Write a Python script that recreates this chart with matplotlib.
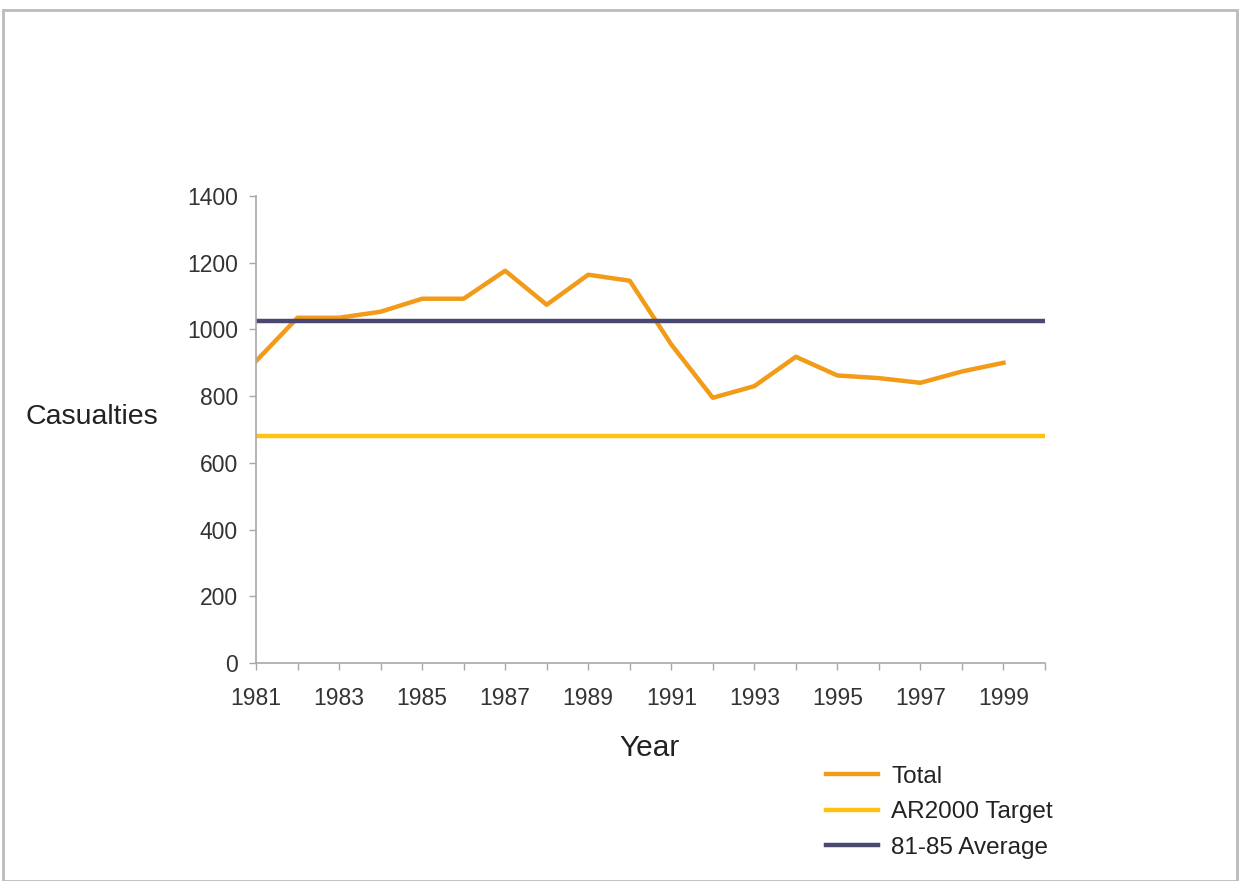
import matplotlib
matplotlib.use("Agg")
import matplotlib.pyplot as plt
from matplotlib.patches import Rectangle

plt.rcParams['font.family'] = ['Liberation Sans', 'DejaVu Sans']

years = list(range(1981, 2000))
total = [905, 1035, 1035, 1053, 1092, 1092, 1176, 1074, 1164, 1146,
         955, 795, 830, 918, 862, 854, 840, 874, 900]
axis_years = [1981, 2000]
target = [680, 680]
average = [1025, 1025]
ytick_vals = [0, 200, 400, 600, 800, 1000, 1200, 1400]
xtick_labels = [str(y) for y in range(1981, 2000, 2)]

fig = plt.figure(figsize=(12.4, 8.81), dpi=100)
ax = fig.add_axes([256/1240, 1-663/881, (1045-256)/1240, (663-196)/881])

ax.plot(years, total, color='#F29B18', lw=3.2, label='Total')
ax.plot(axis_years, target, color='#FFC20E', lw=3.2, label='AR2000 Target')
ax.plot(axis_years, average, color='#4A4870', lw=3.2, label='81-85 Average')

ax.set_xlim(1981, 2000)
ax.set_ylim(0, 1400)
ax.set_yticks(ytick_vals)
ax.set_xticks(list(range(1981, 2000, 2)))
ax.set_xticklabels(xtick_labels)
ax.set_xticks(list(range(1982, 2001, 2)), minor=True)

for s in ['top', 'right']:
    ax.spines[s].set_visible(False)
for s in ['left', 'bottom']:
    ax.spines[s].set_color('#A8A8A8')
    ax.spines[s].set_linewidth(1.2)
ax.tick_params(axis='both', which='both', colors='#A8A8A8', length=5, width=1,
               labelcolor='#333333', labelsize=16.5)
ax.tick_params(axis='x', pad=12)
ax.tick_params(axis='y', pad=8)

fig.text(92/1240, 1-417/881, 'Casualties', fontsize=20.5, ha='center', va='center', color='#222222')
fig.text(650/1240, 1-748/881, 'Year', fontsize=21.5, ha='center', va='center', color='#222222')

leg = ax.legend(loc='upper left', bbox_to_anchor=(816/1240, 1-756/881), bbox_transform=fig.transFigure,
                frameon=False, fontsize=17.5, handlelength=2.15, handletextpad=0.55,
                labelspacing=0.56, borderaxespad=0)
for t in leg.get_texts():
    t.set_color('#222222')

fig.patches.append(Rectangle((3/1240, 0), 1234/1240, 1-10/881, transform=fig.transFigure,
                             fill=False, edgecolor='#BBBBBB', lw=2))

fig.savefig('out.png', dpi=100, facecolor='white')
